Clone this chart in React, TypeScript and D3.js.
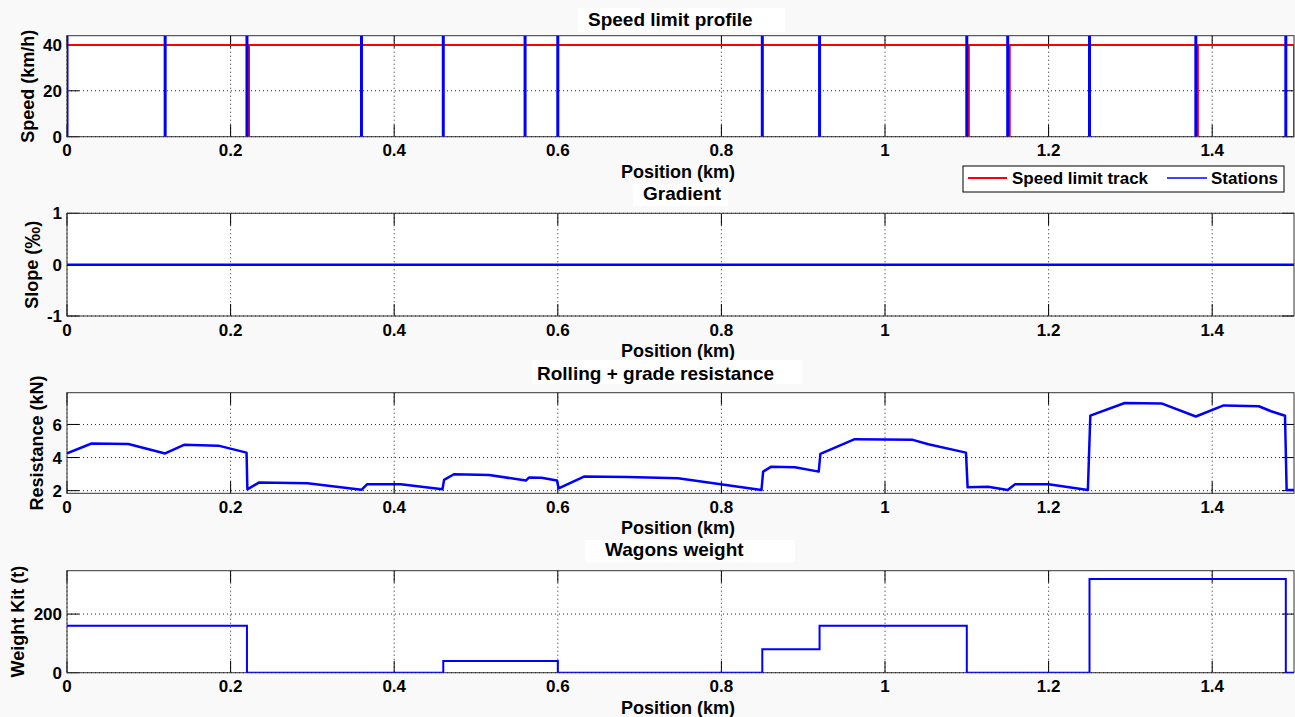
import React from 'react';
import * as d3 from 'd3';

// ---------- data ----------
const xTicks = [0, 0.2, 0.4, 0.6, 0.8, 1, 1.2, 1.4];

const stations = [0, 0.12, 0.22, 0.36, 0.46, 0.56, 0.6, 0.85, 0.92, 1.1, 1.15, 1.25, 1.38, 1.49];

const speedPos = [0, 0.2225, 0.2225, 0.2225, 1.1025, 1.1025, 1.1025, 1.1525, 1.1525, 1.1525, 1.3825, 1.3825, 1.3825, 1.5, 1.5];
const speedVal = [40, 40, 0, 40, 40, 0, 40, 40, 0, 40, 40, 0, 40, 40, 0];
const speedTicks = [0, 20, 40];

const gradPos = [0, 1.5];
const gradVal = [0, 0];
const gradTicks = [-1, 0, 1];

const resPos = [0, 0.03, 0.075, 0.12, 0.143, 0.185, 0.2195, 0.2205, 0.235, 0.294, 0.36, 0.367, 0.408, 0.459, 0.461, 0.473, 0.516, 0.561, 0.565, 0.58, 0.599, 0.601, 0.632, 0.685, 0.747, 0.849, 0.851, 0.861, 0.89, 0.919, 0.921, 0.963, 1.034, 1.053, 1.099, 1.101, 1.126, 1.15, 1.159, 1.2, 1.248, 1.251, 1.293, 1.338, 1.38, 1.414, 1.457, 1.472, 1.489, 1.491, 1.5];
const resVal = [4.25, 4.85, 4.82, 4.25, 4.77, 4.72, 4.3, 2.08, 2.5, 2.45, 2.05, 2.39, 2.39, 2.08, 2.65, 2.99, 2.95, 2.61, 2.8, 2.78, 2.61, 2.14, 2.85, 2.82, 2.75, 2.04, 3.15, 3.45, 3.42, 3.15, 4.22, 5.11, 5.07, 4.8, 4.3, 2.2, 2.24, 2.04, 2.39, 2.39, 2.04, 6.53, 7.3, 7.27, 6.48, 7.15, 7.1, 6.8, 6.53, 2.04, 2.04];
const resTicks = [2, 4, 6];

const weightPos = [0, 0.22, 0.46, 0.6, 0.85, 0.92, 1.1, 1.25, 1.49, 1.5];
const weightVal = [160, 0, 40, 0, 80, 160, 0, 320, 0, 0];
const weightTicks = [0, 200];

// ---------- layout ----------
const W = 1295;
const H = 717;
const X0 = 67;
const X1 = 1294;
const FONT = "'Liberation Sans', Arial, Helvetica, sans-serif";
const TICK = 12;

const x = d3.scaleLinear().domain([0, 1.5]).range([X0, X1]);

type PanelProps = {
  id: string;
  top: number;
  bottom: number;
  yDomain: [number, number];
  yTicks: number[];
  ylabel: React.ReactNode;
  ylabelX: number;
  title: string;
  titleX: number;
  titleY: number;
  box: [number, number, number, number];
  render: (y: d3.ScaleLinear<number, number>) => React.ReactNode;
};

function Panel(p: PanelProps) {
  const y = d3.scaleLinear().domain(p.yDomain).range([p.bottom, p.top]);
  const fmt = (v: number) => String(v);
  return (
    <g>
      <rect x={p.box[0]} y={p.box[1]} width={p.box[2]} height={p.box[3]} fill="#ffffff" />
      <text x={p.titleX} y={p.titleY} fontFamily={FONT} fontWeight="bold" fontSize={19} fill="#000">
        {p.title}
      </text>
      <rect x={X0} y={p.top} width={X1 - X0} height={p.bottom - p.top} fill="#ffffff" />
      <clipPath id={`clip-${p.id}`}>
        <rect x={X0} y={p.top} width={X1 - X0} height={p.bottom - p.top} />
      </clipPath>
      {/* grid */}
      {xTicks.map((t) => (
        <line key={`gx${t}`} x1={x(t)} x2={x(t)} y1={p.top} y2={p.bottom} stroke="#222" strokeWidth={1} strokeDasharray="1 3" />
      ))}
      {p.yTicks.map((t) => (
        <line key={`gy${t}`} x1={X0} x2={X1} y1={y(t)} y2={y(t)} stroke="#222" strokeWidth={1} strokeDasharray="1 3" />
      ))}
      {/* ticks */}
      {xTicks.map((t) => (
        <g key={`tx${t}`}>
          <line x1={x(t)} x2={x(t)} y1={p.bottom} y2={p.bottom - TICK} stroke="#000" strokeWidth={1} />
          <line x1={x(t)} x2={x(t)} y1={p.top} y2={p.top + TICK} stroke="#000" strokeWidth={1} />
        </g>
      ))}
      {p.yTicks.map((t) => (
        <g key={`ty${t}`}>
          <line x1={X0} x2={X0 + TICK} y1={y(t)} y2={y(t)} stroke="#000" strokeWidth={1} />
          <line x1={X1} x2={X1 - TICK} y1={y(t)} y2={y(t)} stroke="#000" strokeWidth={1} />
        </g>
      ))}
      <rect x={X0} y={p.top} width={X1 - X0} height={p.bottom - p.top} fill="none" stroke="#333" strokeWidth={1} />
      {/* data */}
      <g clipPath={`url(#clip-${p.id})`}>{p.render(y)}</g>
      {/* tick labels */}
      {xTicks.map((t) => (
        <text key={`lx${t}`} x={x(t)} y={p.bottom + 19.5} textAnchor="middle" fontFamily={FONT} fontWeight="bold" fontSize={17} fill="#000">
          {fmt(t)}
        </text>
      ))}
      {p.yTicks.map((t) => (
        <text key={`ly${t}`} x={X0 - 5} y={y(t)} dy="0.36em" textAnchor="end" fontFamily={FONT} fontWeight="bold" fontSize={17} fill="#000">
          {fmt(t)}
        </text>
      ))}
      <text x={678} y={p.bottom + 41} textAnchor="middle" fontFamily={FONT} fontWeight="bold" fontSize={18} fill="#000">
        Position (km)
      </text>
      <text
        transform={`translate(${p.ylabelX},${(p.top + p.bottom) / 2}) rotate(-90)`}
        textAnchor="middle"
        dominantBaseline="central"
        fontFamily={FONT}
        fontWeight="bold"
        fontSize={18}
        fill="#000"
      >
        {p.ylabel}
      </text>
    </g>
  );
}

export default function App() {
  const lineOf = (xs: number[], ys: number[], y: d3.ScaleLinear<number, number>, curve = d3.curveLinear) =>
    d3
      .line<number>()
      .x((_, i) => x(xs[i]))
      .y((_, i) => y(ys[i]))
      .curve(curve)(ys) || '';

  return (
    <div style={{ position: 'absolute', left: 0, top: 0 }}>
      <svg width={W} height={H} style={{ display: 'block' }}>
        <rect x={0} y={0} width={W} height={H} fill="#f9f9f9" />

        <Panel
          id="speed"
          top={35.7}
          bottom={136.7}
          yDomain={[0, 44]}
          yTicks={speedTicks}
          ylabel="Speed (km/h)"
          ylabelX={28}
          title="Speed limit profile"
          titleX={588}
          titleY={26}
          box={[578, 8, 207, 24]}
          render={(y) => (
            <g>
              <path d={lineOf(speedPos, speedVal, y)} fill="none" stroke="#ff0000" strokeWidth={2} />
              {stations.map((s) => (
                <line key={s} x1={x(s)} x2={x(s)} y1={y(0)} y2={y(44)} stroke="#0000ff" strokeWidth={3} />
              ))}
            </g>
          )}
        />

        <Panel
          id="grad"
          top={213.3}
          bottom={316}
          yDomain={[-1, 1]}
          yTicks={gradTicks}
          ylabel={
            <>
              <tspan>Slope (</tspan>
              <tspan fontSize={22}>‰</tspan>
              <tspan>)</tspan>
            </>
          }
          ylabelX={32}
          title="Gradient"
          titleX={643}
          titleY={200}
          box={[633, 184, 95, 22]}
          render={(y) => <path d={lineOf(gradPos, gradVal, y)} fill="none" stroke="#0000ff" strokeWidth={2.5} />}
        />

        <Panel
          id="res"
          top={392.7}
          bottom={493.3}
          yDomain={[1.84, 7.92]}
          yTicks={resTicks}
          ylabel="Resistance (kN)"
          ylabelX={37}
          title="Rolling + grade resistance"
          titleX={537}
          titleY={380}
          box={[532, 360, 270, 24]}
          render={(y) => <path d={lineOf(resPos, resVal, y)} fill="none" stroke="#0000ff" strokeWidth={2.5} strokeLinejoin="round" />}
        />

        <Panel
          id="weight"
          top={570.7}
          bottom={672.7}
          yDomain={[0, 348]}
          yTicks={weightTicks}
          ylabel="Weight Kit (t)"
          ylabelX={18}
          title="Wagons weight"
          titleX={605}
          titleY={556}
          box={[585, 540, 210, 22]}
          render={(y) => <path d={lineOf(weightPos, weightVal, y, d3.curveStepAfter)} fill="none" stroke="#0000ff" strokeWidth={2} />}
        />

        {/* legend */}
        <g>
          <rect x={963} y={166} width={321} height={26} fill="#ffffff" stroke="#000" strokeWidth={1} />
          <line x1={968} x2={1007} y1={178} y2={178} stroke="#ff0000" strokeWidth={2} />
          <text x={1012} y={184} fontFamily={FONT} fontWeight="bold" fontSize={17} fill="#000">
            Speed limit track
          </text>
          <line x1={1167} x2={1207} y1={178} y2={178} stroke="#0000ff" strokeWidth={1.5} />
          <text x={1211} y={184} fontFamily={FONT} fontWeight="bold" fontSize={17} fill="#000">
            Stations
          </text>
        </g>
      </svg>
    </div>
  );
}
